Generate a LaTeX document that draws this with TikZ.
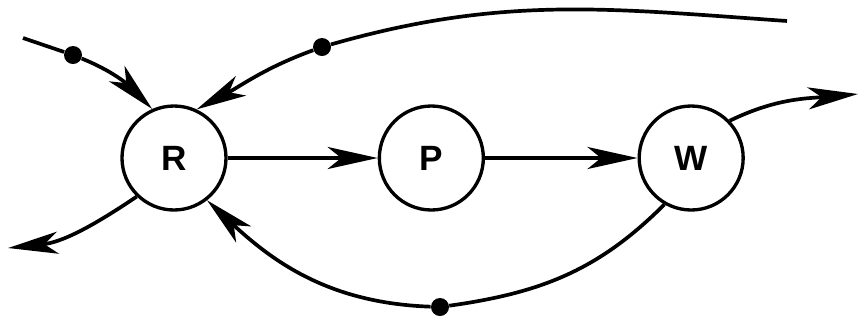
\documentclass[tikz,border=0pt]{standalone}
\usepackage{fontspec}
\setsansfont{Liberation Sans}
\usepackage{tikz}
\usetikzlibrary{arrows.meta, positioning, calc}

\begin{document}
\begin{tikzpicture}[
    node distance=3cm,
    st/.style={circle, draw, line width=1.9pt, fill=white, minimum size=2.08cm, inner sep=0pt,
               font=\sffamily\bfseries\fontsize{20}{22}\selectfont},
    dot/.style={circle, fill=black, minimum size=0.36cm, inner sep=0pt},
    arr/.style={-{Stealth[length=10mm, width=4.4mm, inset=2.7mm]}, line width=2.1pt},
    ln/.style={line width=2.1pt}
]
\useasboundingbox (0,0) rectangle (17.18,-6.4);

\node[st] (R) at (3.48,-3.16) {R};
\node[st, right=of R] (P) {P};
\node[st, right=3.05cm of P] (W) {W};

\node[dot] (d1) at (1.46,-1.10) {};
\node[dot] (d2) at (6.44,-0.94) {};
\node[dot] (d3) at (8.80,-6.14) {};

\coordinate (in0) at (0.46,-0.76);
\coordinate (fb0) at (15.74,-0.42);
\coordinate (out1) at (0.16,-4.96);
\coordinate (out2) at (17.16,-1.88);

\draw[arr] (R) -- (P);
\draw[arr] (P) -- (W);

\draw[ln] (in0) -- (d1);
\draw[arr] (d1) to[out=-22, in=135] (R.114);

\draw[ln] (fb0) to[out=176, in=16] (d2);
\draw[arr] (d2) to[out=200, in=28] (R.65);

\draw[arr] (R.226) to[out=214, in=6] (out1);
\draw[arr] (W.44) to[out=26, in=185] (out2);

\draw[ln] (W.240) to[out=225, in=8] (d3);
\draw[arr] (d3) to[out=178, in=-43] (R.-52);

\end{tikzpicture}
\end{document}
